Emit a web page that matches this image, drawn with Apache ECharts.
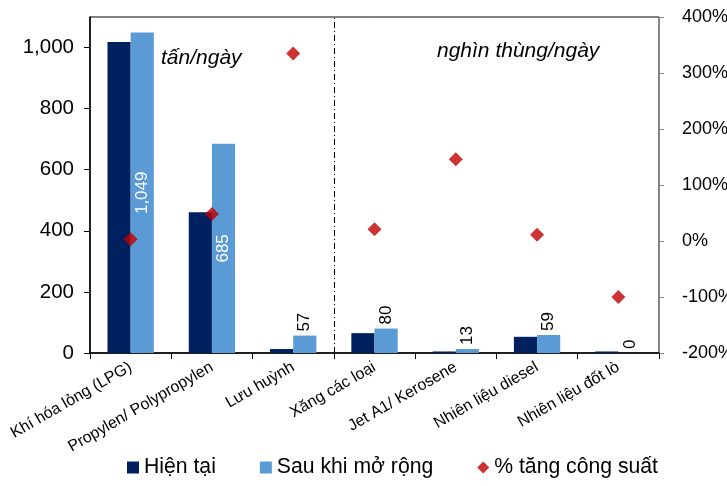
<!DOCTYPE html>
<html>
<head>
<meta charset="utf-8">
<script src="https://cdn.jsdelivr.net/npm/echarts@6/dist/echarts.min.js"></script>
<style>
html,body{margin:0;padding:0;background:#fff;}
#chart{width:727px;height:486px;}
</style>
</head>
<body>
<div id="chart"></div>
<script>
var categories = ['Khí hóa lỏng (LPG)', 'Propylen/ Polypropylen', 'Lưu huỳnh', 'Xăng các loại', 'Jet A1/ Kerosene', 'Nhiên liệu diesel', 'Nhiên liệu đốt lò'];
var currentValues = [1018, 461, 13, 65, 5, 53, 5];
var expandedValues = [1049, 685, 57, 80, 13, 59, 0];
var growthPct = [3, 48, 335, 21, 146, 11, -100];
var insideLabelIdx = [0, 1];
var dividerBeforeIdx = 3;
var leftTicks = {min: 0, max: 1100, interval: 200};
var rightTicks = {min: -200, max: 400, interval: 100};
var seriesNames = ['Hiện tại', 'Sau khi mở rộng', '% tăng công suất'];
var unitLabels = ['tấn/ngày', 'nghìn thùng/ngày'];

var FONT = '"Liberation Sans", Arial, sans-serif';
var chart = echarts.init(document.getElementById('chart'), null, {renderer: 'canvas'});

function fmt(v) { return Number(v).toLocaleString('en-US'); }

var expandedData = expandedValues.map(function (v, i) {
  var inside = insideLabelIdx.indexOf(i) >= 0;
  return {
    value: v,
    label: inside ? {
      show: true, position: 'inside', rotate: 90, color: '#fff',
      align: 'center', verticalAlign: 'middle'
    } : {
      show: true, position: 'top', rotate: 90, color: '#000',
      align: 'left', verticalAlign: 'middle', distance: 4
    }
  };
});

var option = {
  animation: false,
  textStyle: {fontFamily: FONT},
  grid: {
    left: 90, right: 68, top: 17, bottom: 133,
    outerBoundsMode: 'none', containLabel: false,
    show: true, borderColor: '#000', borderWidth: 1, backgroundColor: 'transparent'
  },
  legend: {
    bottom: 3, left: 122,
    itemWidth: 12, itemHeight: 12, itemGap: 44,
    textStyle: {fontSize: 21.2, color: '#000', fontFamily: FONT},
    data: [
      {name: seriesNames[0], icon: 'rect'},
      {name: seriesNames[1], icon: 'rect'},
      {name: seriesNames[2], icon: 'diamond'}
    ]
  },
  xAxis: [
    {
      type: 'category',
      data: categories,
      boundaryGap: true,
      axisLine: {lineStyle: {color: '#000', width: 1.5}},
      axisTick: {show: true, interval: 0, length: 6, lineStyle: {color: '#000'}},
      axisLabel: {interval: 0, rotate: 30, fontSize: 16, color: '#000', margin: 13, fontFamily: FONT},
      splitLine: {show: false}
    },
    {
      type: 'value', min: 0, max: categories.length, show: false,
      splitLine: {show: false}
    }
  ],
  yAxis: [
    {
      type: 'value', min: leftTicks.min, max: leftTicks.max, interval: leftTicks.interval,
      axisLine: {show: true, lineStyle: {color: '#000', width: 1.5}},
      axisTick: {show: true, length: 6, lineStyle: {color: '#000'}},
      axisLabel: {fontSize: 20.5, color: '#000', margin: 16, showMaxLabel: false, formatter: fmt, fontFamily: FONT},
      splitLine: {show: false}
    },
    {
      type: 'value', position: 'right', min: rightTicks.min, max: rightTicks.max, interval: rightTicks.interval,
      axisLine: {show: true, lineStyle: {color: '#888', width: 1.5}},
      axisTick: {show: true, length: 5, lineStyle: {color: '#888'}},
      axisLabel: {fontSize: 18, color: '#000', margin: 23, formatter: '{value}%', fontFamily: FONT},
      splitLine: {show: false}
    }
  ],
  series: [
    {
      name: seriesNames[0], type: 'bar', data: currentValues,
      barGap: '0%', barCategoryGap: '43%',
      itemStyle: {color: '#002060'}
    },
    {
      name: seriesNames[1], type: 'bar', data: expandedData,
      itemStyle: {color: '#5B9BD5'},
      label: {show: true, fontSize: 17, formatter: function (p) { return fmt(p.value); }, fontFamily: FONT}
    },
    {
      name: seriesNames[2], type: 'scatter', yAxisIndex: 1, data: growthPct,
      symbol: 'diamond', symbolSize: 14,
      itemStyle: {color: '#C00000'}, z: 5
    },
    {
      name: 'divider', type: 'line', xAxisIndex: 1, yAxisIndex: 0, data: [],
      silent: true,
      markLine: {
        silent: true, symbol: 'none', label: {show: false},
        lineStyle: {color: '#000', width: 1, type: [6, 3, 1, 3]},
        data: [{xAxis: dividerBeforeIdx}]
      }
    }
  ],
  graphic: [
    {type: 'text', left: 161, top: 48, style: {text: unitLabels[0], font: 'italic 21px ' + FONT, fill: '#000'}},
    {type: 'text', left: 437, top: 41, style: {text: unitLabels[1], font: 'italic 21px ' + FONT, fill: '#000'}}
  ]
};
chart.setOption(option);
</script>
</body>
</html>
